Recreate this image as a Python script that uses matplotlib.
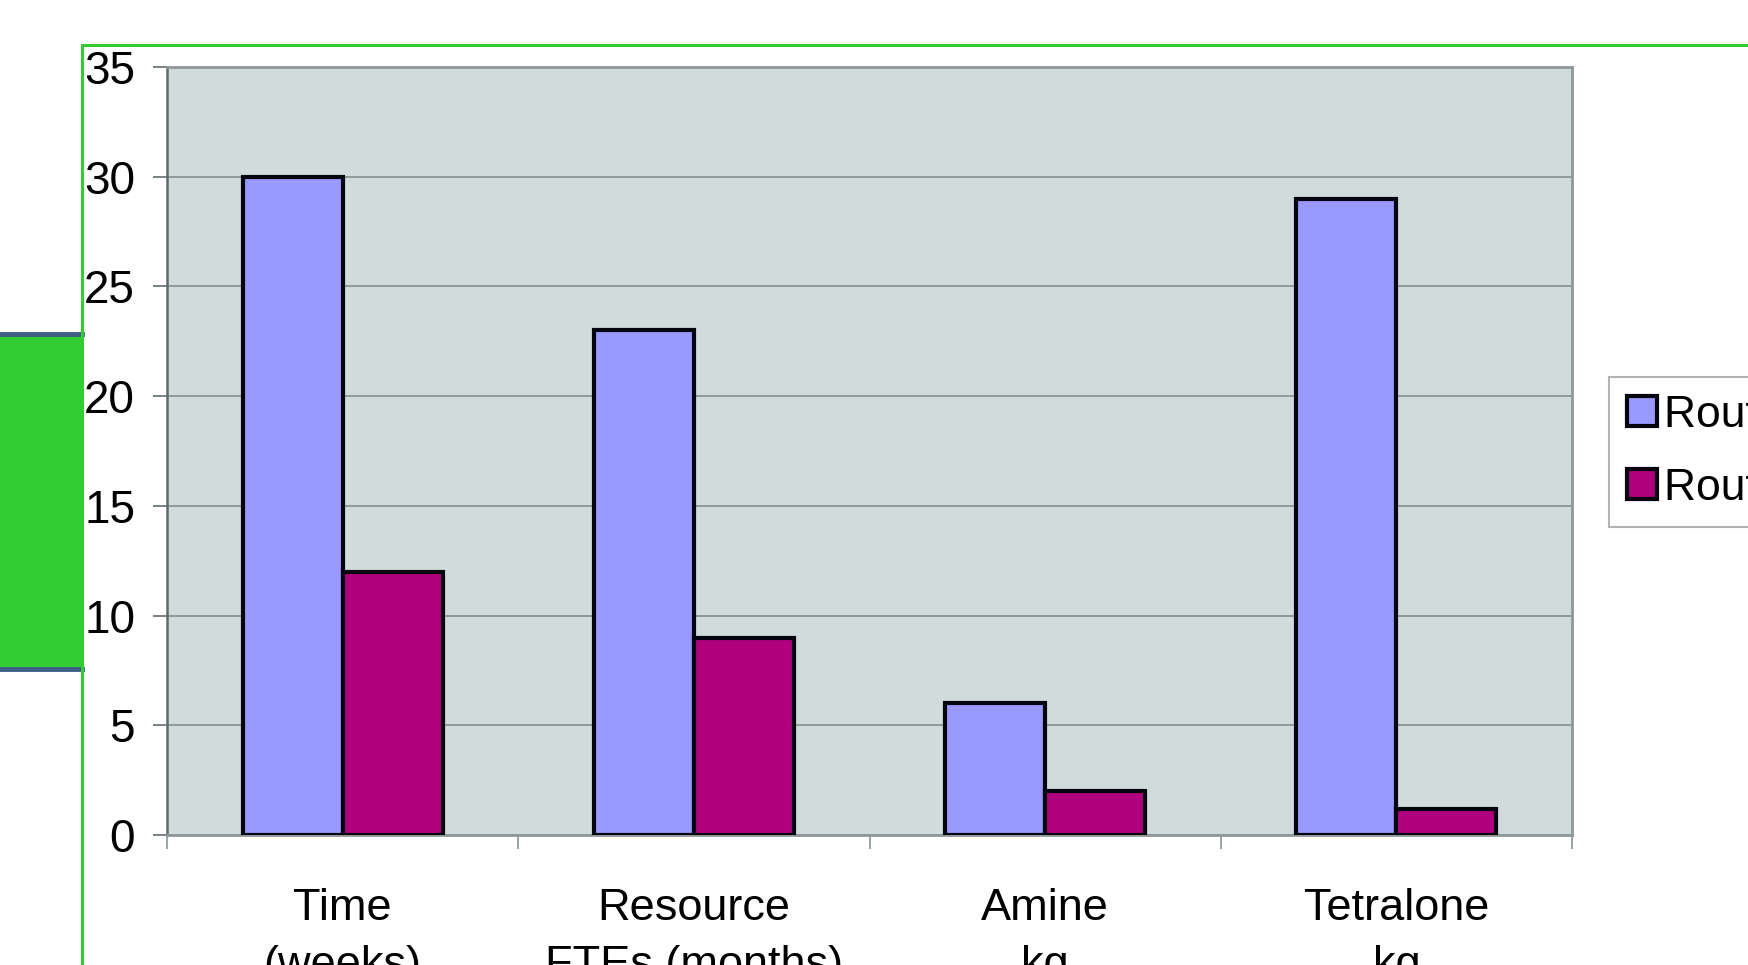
import matplotlib
matplotlib.use("Agg")
import matplotlib.pyplot as plt
from matplotlib.patches import Rectangle
from matplotlib.lines import Line2D
import numpy as np

categories = ["Time\n(weeks)", "Resource\nFTEs (months)", "Amine\nkg", "Tetralone\nkg"]
series_names = ["Route 1", "Route 2"]
route1 = [30, 23, 6, 29]
route2 = [12, 9, 2, 1.2]
yticks = [0, 5, 10, 15, 20, 25, 30, 35]

plt.rcParams['font.family'] = ['Liberation Sans', 'DejaVu Sans']

W, H = 1748, 965
fig = plt.figure(figsize=(W / 100, H / 100), dpi=100)

def fx(px):
    return px / W

def fy(py):
    return 1 - py / H

# left green block with blue-grey borders
fig.patches.append(Rectangle((0, fy(670)), fx(82), fy(334) - fy(670),
                             transform=fig.transFigure, facecolor='#33CC33',
                             edgecolor='none', zorder=0))
for yy in (334, 669):
    fig.lines.append(Line2D([0, fx(82)], [fy(yy), fy(yy)], transform=fig.transFigure,
                            color='#3E5E86', lw=3.5, zorder=1))
# green frame lines
fig.lines.append(Line2D([fx(82), 1], [fy(45), fy(45)], transform=fig.transFigure,
                        color='#33CC33', lw=2.2, zorder=1))
fig.lines.append(Line2D([fx(82), fx(82)], [0, fy(45)], transform=fig.transFigure,
                        color='#33CC33', lw=2.2, zorder=1))

ax = fig.add_axes([fx(167), fy(835), fx(1572) - fx(167), fy(67) - fy(835)])
ax.set_facecolor('#D1DBDB')

x = np.arange(len(categories))
bw = 0.285
ax.bar(x - bw / 2, route1, bw, color='#9999FF', edgecolor='#050510', linewidth=3.0,
       label=series_names[0], zorder=3)
ax.bar(x + bw / 2, route2, bw, color='#B0007F', edgecolor='#050510', linewidth=3.0,
       label=series_names[1], zorder=3)

ax.set_xlim(-0.5, len(categories) - 0.5)
ax.set_ylim(0, 35)
ax.set_yticks(yticks)
ax.set_yticklabels([str(v) for v in yticks])
ax.yaxis.grid(True, color='#8A9595', lw=1.3, zorder=1)
ax.set_axisbelow(True)

ax.set_xticks(np.arange(len(categories) + 1) - 0.5)
ax.set_xticklabels([])
ax.set_xticks(x, minor=True)
ax.set_xticklabels(categories, minor=True, fontsize=32.5, linespacing=1.5)
ax.tick_params(axis='x', which='minor', length=0, pad=38)
ax.tick_params(axis='x', which='major', length=10, width=1.2, color='#8A9595', direction='out')
ax.tick_params(axis='y', which='major', length=10, width=1.3, color='#6E7878',
               direction='out', labelsize=33, pad=13)

for s in ('top', 'right', 'bottom'):
    ax.spines[s].set_color('#8E9898')
    ax.spines[s].set_linewidth(2.0)
ax.spines['left'].set_color('#5F6A6A')
ax.spines['left'].set_linewidth(1.8)

leg = fig.legend(loc='upper left', bbox_to_anchor=(fx(1609), fy(377)),
                 fontsize=32, frameon=True, fancybox=False, handlelength=0.68,
                 handleheight=0.68, handletextpad=0.15, labelspacing=0.72,
                 borderpad=0.4, borderaxespad=0)
leg.get_frame().set_edgecolor('#A0A0A0')
leg.get_frame().set_linewidth(1.5)
for p in leg.get_patches():
    p.set_linewidth(3.0)

fig.savefig('out.png', dpi=100)
